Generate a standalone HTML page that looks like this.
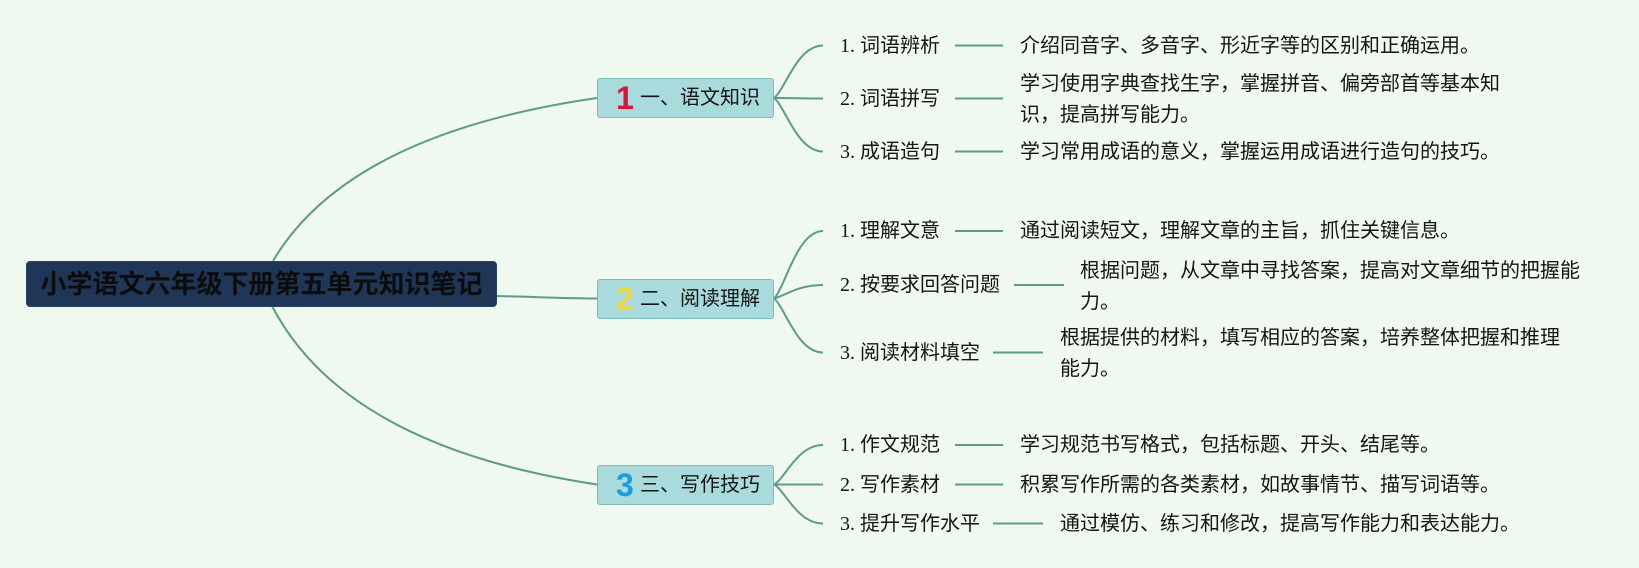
<!DOCTYPE html>
<html>
<head>
<meta charset="utf-8">
<style>
  html, body { margin:0; padding:0; }
  body {
    width:1639px; height:568px; overflow:hidden; position:relative;
    background:#f0f9ef;
    font-family:"Liberation Sans","Noto Sans CJK SC",sans-serif;
  }
  svg.lines { position:absolute; left:0; top:0; }
  .root {
    position:absolute; left:26px; top:261px; width:471px; height:46px;
    background:#1f3657; border-radius:4px; box-sizing:border-box;
    border:1px solid #2a4468;
    color:#0c0c0c; font-weight:bold; font-size:26px; line-height:44px;
    text-align:center; white-space:nowrap;
    font-family:"Liberation Sans","Noto Sans CJK SC",sans-serif;
  }
  .node {
    position:absolute; left:597px; width:177px; height:40px;
    background:#a9dadc; border:1px solid #80bbb8; border-radius:3px;
    box-sizing:border-box;
  }
  .dig {
    position:absolute; left:616px; height:40px; line-height:40px;
    font-size:32px; font-weight:bold;
    font-family:"Liberation Sans",sans-serif;
  }
  .ntxt {
    position:absolute; left:640px; height:20px; line-height:20px;
    font-size:20px; color:#151515; white-space:nowrap;
    font-family:"Liberation Sans","Noto Sans CJK SC",sans-serif;
  }
  .lbl {
    position:absolute; left:840px; height:20px; line-height:20px;
    font-size:20px; color:#151515; white-space:nowrap;
    font-family:"Liberation Serif","Noto Sans CJK SC",serif;
  }
  .desc {
    position:absolute; font-size:20px; line-height:20px; color:#151515;
    white-space:nowrap;
    font-family:"Liberation Sans","Noto Sans CJK SC",sans-serif;
  }
  .desc.two { line-height:31px; }
</style>
</head>
<body>
<svg class="lines" width="1639" height="568" viewBox="0 0 1639 568">
  <g fill="none" stroke="#5d9b8c" stroke-width="2">
    <!-- root to main nodes -->
    <path d="M273,261 Q348,134 597,98"/>
    <path d="M496,296 C540,297 560,298.5 597,298.5"/>
    <path d="M272,306 Q345,446.5 597,484.5"/>
    <!-- branch 1 -->
    <path d="M774,98 C785,90 797,45.5 823,45.5"/>
    <path d="M774,98 C790,98 805,98.5 823,98.5"/>
    <path d="M774,98 C785,106 797,151.5 823,151.5"/>
    <!-- branch 2 -->
    <path d="M774,298.5 C785,288 797,231 823,231"/>
    <path d="M774,298.5 C785,296 797,285 823,285"/>
    <path d="M774,298.5 C785,307 797,352.5 823,352.5"/>
    <!-- branch 3 -->
    <path d="M774,484.5 C785,479 797,445 823,445"/>
    <path d="M774,484.5 L823,484.5"/>
    <path d="M774,484.5 C785,490 797,523.5 823,523.5"/>
    <!-- label to description connectors -->
    <path d="M955,45.5 H1003"/>
    <path d="M955,98.5 H1003"/>
    <path d="M955,151.5 H1003"/>
    <path d="M955,231 H1003"/>
    <path d="M1014,285 H1064"/>
    <path d="M993,352.5 H1043"/>
    <path d="M955,445 H1003"/>
    <path d="M955,484.5 H1003"/>
    <path d="M993,523.5 H1043"/>
  </g>
</svg>

<div class="root">小学语文六年级下册第五单元知识笔记</div>

<!-- main nodes -->
<div class="node" style="top:78px;"></div>
<div class="dig" style="top:78px;color:#d8183a;">1</div>
<div class="ntxt" style="top:88px;">一、语文知识</div>

<div class="node" style="top:278.5px;"></div>
<div class="dig" style="top:278.5px;color:#f2d43c;">2</div>
<div class="ntxt" style="top:288.5px;">二、阅读理解</div>

<div class="node" style="top:464.5px;"></div>
<div class="dig" style="top:464.5px;color:#1a9ce0;">3</div>
<div class="ntxt" style="top:474.5px;">三、写作技巧</div>

<!-- branch 1 labels -->
<div class="lbl" style="top:35.5px;">1. 词语辨析</div>
<div class="lbl" style="top:88.5px;">2. 词语拼写</div>
<div class="lbl" style="top:141.5px;">3. 成语造句</div>

<!-- branch 2 labels -->
<div class="lbl" style="top:221px;">1. 理解文意</div>
<div class="lbl" style="top:275px;">2. 按要求回答问题</div>
<div class="lbl" style="top:342.5px;">3. 阅读材料填空</div>

<!-- branch 3 labels -->
<div class="lbl" style="top:435px;">1. 作文规范</div>
<div class="lbl" style="top:474.5px;">2. 写作素材</div>
<div class="lbl" style="top:513.5px;">3. 提升写作水平</div>

<!-- descriptions -->
<div class="desc" style="left:1020px;top:35.5px;">介绍同音字、多音字、形近字等的区别和正确运用。</div>
<div class="desc two" style="left:1020px;top:68.5px;">学习使用字典查找生字，掌握拼音、偏旁部首等基本知<br>识，提高拼写能力。</div>
<div class="desc" style="left:1020px;top:142px;">学习常用成语的意义，掌握运用成语进行造句的技巧。</div>

<div class="desc" style="left:1020px;top:221px;">通过阅读短文，理解文章的主旨，抓住关键信息。</div>
<div class="desc two" style="left:1080px;top:255.5px;">根据问题，从文章中寻找答案，提高对文章细节的把握能<br>力。</div>
<div class="desc two" style="left:1060px;top:323px;">根据提供的材料，填写相应的答案，培养整体把握和推理<br>能力。</div>

<div class="desc" style="left:1020px;top:435px;">学习规范书写格式，包括标题、开头、结尾等。</div>
<div class="desc" style="left:1020px;top:474.5px;">积累写作所需的各类素材，如故事情节、描写词语等。</div>
<div class="desc" style="left:1060px;top:513.5px;">通过模仿、练习和修改，提高写作能力和表达能力。</div>
</body>
</html>
